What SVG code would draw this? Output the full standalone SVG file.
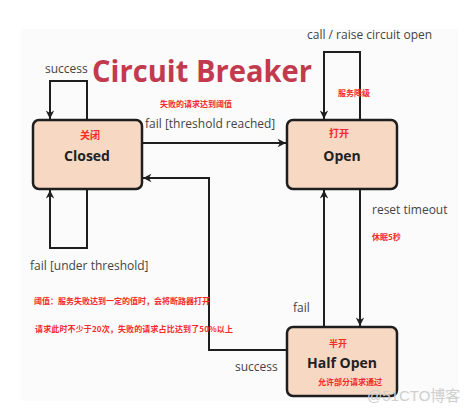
<svg xmlns="http://www.w3.org/2000/svg" width="474" height="413" viewBox="0 0 474 413">
<style>
.bg{fill:#fbfbfb}
.box{fill:#f7d8c2;stroke:#1e1e1e;stroke-width:2.5}
.name{font-family:"Open Sans","DejaVu Sans",sans-serif;font-weight:bold;font-size:14px;fill:#222;text-anchor:middle}
.lbl{font-family:"Open Sans","DejaVu Sans",sans-serif;font-size:12px;fill:#444}
.cn{font-family:"Noto Sans CJK SC",sans-serif;font-weight:bold;font-size:8px;fill:#f52a2a}
.edge{fill:none;stroke:#1e1e1e;stroke-width:2}
.title{font-family:"Open Sans","DejaVu Sans",sans-serif;font-weight:bold;font-size:30px;fill:#c23a4e}
.wm{font-family:"Liberation Sans","Noto Sans CJK SC",sans-serif;font-size:15px;fill:#cfcfcf}
</style>
<defs>
<marker id="arr" viewBox="0 0 10 10" refX="10" refY="5" markerWidth="6" markerHeight="6" markerUnits="userSpaceOnUse" orient="auto" overflow="visible">
<path d="M0,0 L10,5 L0,10 L3,5 z" fill="#1e1e1e" transform="scale(1.4) translate(-2.9,-1.4)"/>
</marker>
</defs>
<rect class="bg" x="21" y="29" width="437" height="372"/>
<text class="title" x="92" y="82" textLength="220" lengthAdjust="spacingAndGlyphs">Circuit Breaker</text>
<g id="connectors">
<path class="edge" d="M87,120 V81 H50 V119" marker-end="url(#arr)"/>
<path class="edge" d="M87,189 V248 H50 V190" marker-end="url(#arr)"/>
<path class="edge" d="M142,143 H286" marker-end="url(#arr)"/>
<path class="edge" d="M287,350 H209 V178 H143" marker-end="url(#arr)"/>
<path class="edge" d="M360,120 V52 H324 V119" marker-end="url(#arr)"/>
<path class="edge" d="M360,189 V326" marker-end="url(#arr)"/>
<path class="edge" d="M324,327 V190" marker-end="url(#arr)"/>
</g>
<g id="labels">
<text class="lbl" x="45" y="73">success</text>
<text class="cn" x="160" y="107">失败的请求达到阈值</text>
<text class="lbl" x="145" y="128">fail [threshold reached]</text>
<text class="lbl" x="30" y="270">fail [under threshold]</text>
<text class="cn" x="34" y="304">阈值：服务失败达到一定的值时，会将断路器打开</text>
<text class="cn" x="35" y="332" textLength="198">请求此时不少于20次，失败的请求占比达到了50%以上</text>
<text class="lbl" x="307" y="39">call / raise circuit open</text>
<text class="cn" x="338" y="96">服务降级</text>
<text class="lbl" x="372" y="214">reset timeout</text>
<text class="cn" x="372" y="240">休眠5秒</text>
<text class="lbl" x="293" y="312">fail</text>
<text class="lbl" x="235" y="371">success</text>
</g>
<g id="closed">
<rect class="box" x="33" y="120" width="109" height="69" rx="6"/>
<text class="cn" x="90" y="139" style="font-size:10px" text-anchor="middle">关闭</text>
<text class="name" x="87" y="161">Closed</text>
</g>
<g id="open">
<rect class="box" x="287" y="120" width="110" height="69" rx="6"/>
<text class="cn" x="339" y="137" style="font-size:10px" text-anchor="middle">打开</text>
<text class="name" x="342" y="161">Open</text>
</g>
<g id="halfopen">
<rect class="box" x="287" y="327" width="110" height="69" rx="6"/>
<text class="cn" x="338" y="347" style="font-size:9px" text-anchor="middle">半开</text>
<text class="name" x="342" y="368">Half Open</text>
<text class="cn" x="318" y="385">允许部分请求通过</text>
</g>
<text class="wm" x="367" y="401">@51CTO博客</text>
</svg>
